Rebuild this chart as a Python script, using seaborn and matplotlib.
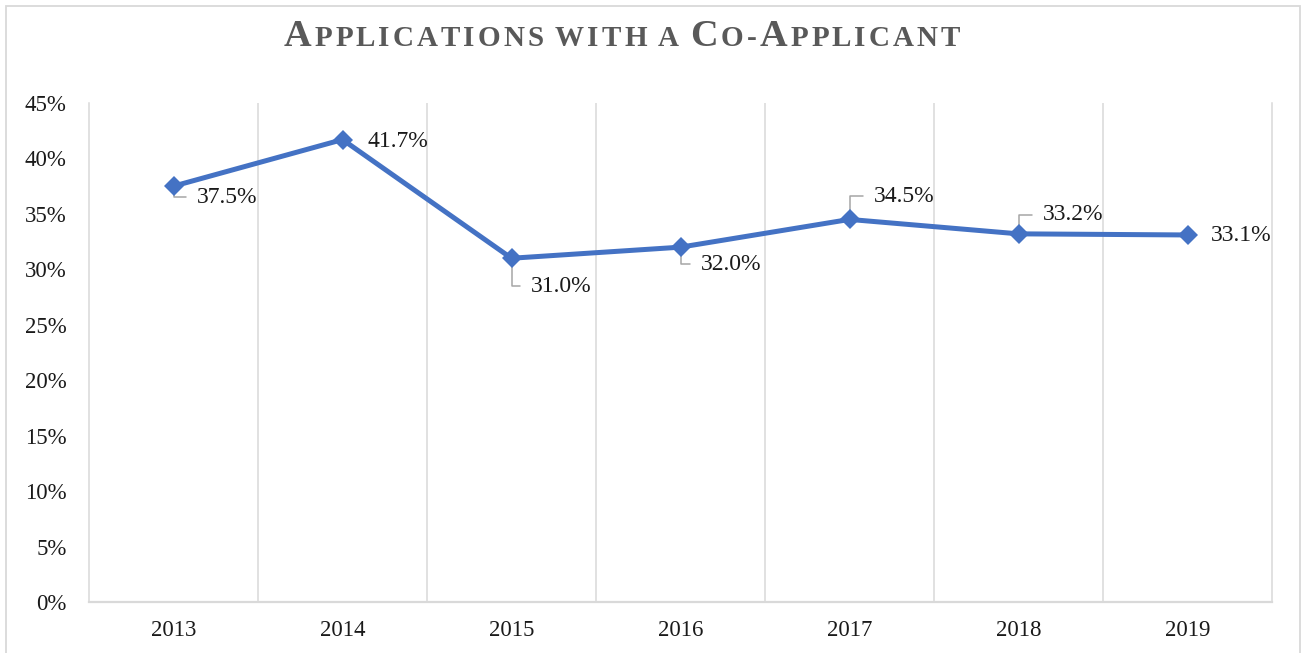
import pandas as pd
import matplotlib.pyplot as plt
import seaborn as sns
from matplotlib.patches import Rectangle
from matplotlib.offsetbox import TextArea, HPacker, AnnotationBbox

# values
years = ["2013", "2014", "2015", "2016", "2017", "2018", "2019"]
share = [37.5, 41.7, 31.0, 32.0, 34.5, 33.2, 33.1]
y_ticks = [0, 5, 10, 15, 20, 25, 30, 35, 40, 45]
title = "Applications with a Co-Applicant"

# label placement (pixels from the marker), and whether a leader line is drawn
label_dx = [23, 25, 19, 20, 24, 24, 23]
label_dy = [-11, -2, -28, -17, 23, 19, -1]
leader = [True, False, True, True, True, True, False]

BLUE = "#4472C4"
GRID = "#D9D9D9"
SERIF = ["Liberation Serif", "DejaVu Serif"]


def main():
    sns.set_theme(style="white")
    plt.rcParams["font.family"] = SERIF

    df = pd.DataFrame({"year": years, "share": share})

    fig = plt.figure(figsize=(13.04, 6.53), dpi=100)
    ax = fig.add_axes([89 / 1304, 51 / 653, (1272 - 89) / 1304, (602 - 103) / 653])

    sns.lineplot(data=df, x="year", y="share", sort=False, color=BLUE, lw=3.6,
                 marker="D", markersize=10.5, markeredgewidth=0, ax=ax, zorder=5)

    ax.set_xlim(-0.5, len(years) - 0.5)
    ax.set_ylim(0, 45)
    ax.set_yticks(y_ticks)
    ax.set_yticklabels([f"{t}%" for t in y_ticks])
    ax.set_xlabel("")
    ax.set_ylabel("")

    # vertical gridlines between categories
    ax.set_xticks([i + 0.5 for i in range(len(years) - 1)], minor=True)
    ax.grid(which="minor", axis="x", color=GRID, lw=1.1)
    ax.grid(which="major", visible=False)
    ax.tick_params(which="both", length=0)
    ax.tick_params(axis="y", pad=16, labelsize=16.5, labelcolor="#1a1a1a")
    ax.tick_params(axis="x", pad=13, labelsize=16.5, labelcolor="#1a1a1a")

    ax.spines["top"].set_visible(False)
    for s in ["left", "right"]:
        ax.spines[s].set_color(GRID)
        ax.spines[s].set_linewidth(1.1)
    ax.spines["bottom"].set_color(GRID)
    ax.spines["bottom"].set_linewidth(1.6)

    # data labels
    for i, v in enumerate(share):
        kw = {}
        if leader[i]:
            kw["arrowprops"] = dict(arrowstyle="-", color="#A6A6A6", lw=1.1,
                                    connectionstyle="angle,angleA=0,angleB=90,rad=0",
                                    relpos=(0, 0.5), shrinkA=5, shrinkB=0)
        ax.annotate(f"{v:.1f}%", xy=(i, v),
                    xytext=(label_dx[i] * 0.72, label_dy[i] * 0.72),
                    textcoords="offset points", ha="left", va="center",
                    fontsize=17, color="#1a1a1a", zorder=3, **kw)

    # small caps title, letter spaced
    parts = []
    for ch in title:
        if ch == " ":
            parts.append(TextArea(" ", textprops=dict(fontsize=15, family=SERIF)))
            continue
        size = 27.5 if ch.isupper() else 21
        parts.append(TextArea(ch.upper(), textprops=dict(fontsize=size, fontweight="bold",
                                                          color="#595959", family=SERIF)))
    box = HPacker(children=parts, align="baseline", pad=0, sep=2.2)
    ab = AnnotationBbox(box, (622 / 1304, 1 - 36 / 653), xycoords="figure fraction",
                        frameon=False, box_alignment=(0.5, 0.5))
    fig.add_artist(ab)

    # chart border
    fig.add_artist(Rectangle((6 / 1304, -0.05), 1294 / 1304, 1.05 - 6 / 653,
                             transform=fig.transFigure, fill=False,
                             edgecolor=GRID, lw=1.3))

    fig.savefig("out.png", dpi=100)


if __name__ == "__main__":
    main()
